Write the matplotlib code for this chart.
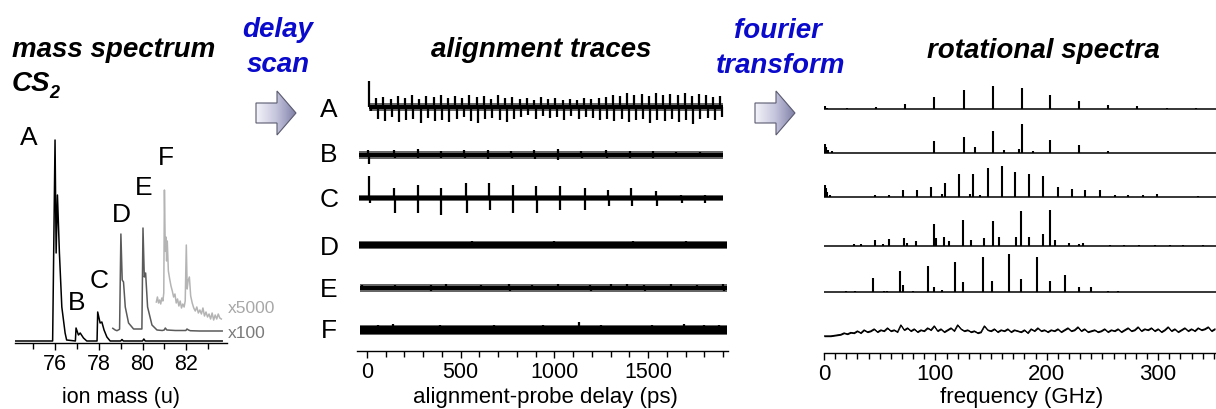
import matplotlib
matplotlib.use("Agg")
import matplotlib.pyplot as plt
import numpy as np
from matplotlib.colors import LinearSegmentedColormap
from matplotlib.patches import Polygon
from matplotlib.ticker import MultipleLocator

plt.rcParams["font.family"] = ["Liberation Sans", "DejaVu Sans"]

W, H = 1216, 409

# ---------------- mass spectrum (u, arb. units) ----------------
mass_x1 = [74.17, 75.89, 76.0, 76.05, 76.11, 76.2, 76.31, 76.46, 76.53, 76.93, 76.96,
           77.07, 77.15, 77.3, 77.45, 77.92, 77.95, 78.06, 78.14, 78.24, 78.37, 78.52,
           79.0, 79.06, 79.12, 80.0, 80.06, 80.12, 83.64]
int_x1 = [0, 0, 201, 88, 146, 88, 34, 8, 1, 0, 13,
          6, 8, 3, 0, 0, 29, 18, 19, 11, 4, 0,
          0, 1.5, 0, 0, 2, 0, 0]

mass_x100 = [78.64, 78.75, 78.83, 78.95, 79.01, 79.07, 79.13, 79.21, 79.36, 79.59, 79.8,
             79.97, 80.02, 80.08, 80.14, 80.23, 80.43, 80.66, 80.9, 80.99, 81.04, 81.11,
             81.5, 81.98, 82.03, 82.1, 82.18, 82.6, 83.0, 83.64]
int_x100 = [12.7, 11, 10.3, 11.7, 107, 61, 59, 34, 18, 12, 12,
            12, 113, 64, 68, 34, 16, 11, 10.5, 11, 13, 11,
            10.5, 10.5, 12, 11, 10.3, 10, 10, 10]

mass_x5000 = [80.63, 80.68, 80.73, 80.78, 80.83, 80.88, 80.93, 80.97,
              81.0, 81.04, 81.07, 81.1, 81.13, 81.18, 81.24, 81.3, 81.36, 81.42, 81.48,
              81.54, 81.6, 81.66, 81.72, 81.78, 81.84, 81.9, 81.95,
              82.0, 82.04, 82.08, 82.14, 82.2, 82.27, 82.34, 82.41, 82.48, 82.55, 82.62,
              82.69, 82.76, 82.83, 82.9, 82.97,
              83.04, 83.11, 83.18, 83.25, 83.32, 83.39, 83.46, 83.53, 83.6]
int_x5000 = [39, 44, 38, 41, 37, 43, 40, 48,
             151, 90, 104, 80, 100, 70, 62, 55, 50, 44, 47, 38, 42, 35, 40, 33, 37, 34, 40,
             96, 52, 60, 64, 45, 38, 33, 30, 34, 28, 31, 27, 33, 25, 29, 24,
             27, 22, 28, 21, 26, 22, 27, 23, 22]

isotope_labels = ["A", "B", "C", "D", "E", "F"]
isotope_label_mass = [74.8, 77.0, 78.0, 79.05, 80.05, 81.05]
isotope_label_int = [196, 31, 53, 119, 146, 176]

# ---------------- alignment traces (delay in ps) ----------------
trace_start = [12, -40, -40, -40, -35, -35]
trace_end = [1898, 1898, 1898, 1923, 1923, 1923]
trace_noise = [3.0, 3.0, 2.5, 3.5, 3.0, 4.5]

a_times = [12, 50, 88, 127, 165, 203, 241, 280, 318, 356, 394, 433, 471, 509, 547, 586,
           624, 662, 700, 739, 777, 815, 853, 892, 930, 968, 1006, 1045, 1083, 1121, 1159,
           1198, 1236, 1274, 1312, 1351, 1389, 1427, 1465, 1504, 1542, 1580, 1618, 1657,
           1695, 1733, 1771, 1810, 1848, 1886]
a_up = [26, 9, 10, 8, 11, 9, 12, 8, 11, 10, 12, 9, 11, 9, 12, 10, 11, 8, 12, 9, 10, 8, 9,
        7, 10, 8, 9, 7, 8, 7, 9, 8, 9, 10, 12, 11, 14, 12, 13, 11, 14, 12, 13, 12, 14, 11,
        13, 12, 10, 11]
a_down = [4, 12, 14, 10, 15, 13, 12, 16, 11, 14, 13, 15, 12, 10, 14, 16, 12, 11, 13, 15,
          12, 10, 8, 12, 9, 11, 10, 13, 9, 12, 10, 11, 13, 12, 14, 12, 15, 13, 12, 16, 13,
          14, 12, 15, 13, 17, 12, 11, 13, 10]

b_times = [8, 146, 271, 395, 520, 644, 769, 893, 1018, 1143, 1276, 1401, 1525, 1650, 1775]
b_up = [5, 5, 6, 4, 5, 5, 4, 5, 6, 4, 5, 4, 4, 3, 3]
b_down = [9, 3, 3, 3, 3, 4, 3, 4, 5, 3, 3, 3, 3, 2, 2]

c_times = [12, 146, 271, 395, 529, 654, 778, 903, 1028, 1161, 1286, 1410, 1544, 1677, 1802]
c_up = [22, 10, 13, 10, 15, 15, 13, 12, 12, 10, 8, 10, 7, 3, 3]
c_down = [5, 15, 15, 17, 15, 12, 15, 15, 12, 12, 8, 8, 8, 5, 5]

d_times = [-30, 120, 300, 480, 560, 700, 830, 1000, 1150, 1280, 1420, 1560, 1700, 1850]
d_up = [3, 3, 3, 2, 4, 3, 3, 4, 3, 3, 4, 3, 4, 3]
d_down = [2, 3, 2, 3, 2, 3, 2, 3, 2, 3, 2, 3, 2, 3]

e_times = [-25, 150, 340, 420, 610, 760, 880, 1020, 1190, 1300, 1390, 1480, 1620, 1760, 1900]
e_up = [3, 3, 3, 4, 3, 4, 3, 4, 3, 4, 4, 3, 4, 3, 4]
e_down = [2, 2, 3, 2, 2, 3, 2, 2, 3, 2, 2, 3, 2, 2, 3]

f_times = [60, 140, 260, 390, 520, 680, 810, 940, 1130, 1250, 1380, 1520, 1690, 1800, 1880]
f_up = [5, 6, 4, 5, 4, 5, 4, 5, 8, 5, 4, 5, 6, 5, 5]
f_down = [3, 4, 3, 4, 3, 3, 4, 3, 4, 3, 4, 3, 3, 4, 3]

spike_data = [(a_times, a_up, a_down), (b_times, b_up, b_down), (c_times, c_up, c_down),
              (d_times, d_up, d_down), (e_times, e_up, e_down), (f_times, f_up, f_down)]

# ---------------- rotational spectra (GHz) ----------------
spec1_f = [1, 3, 20.6, 46.7, 73.1, 99.1, 125.5, 151.5, 177.6, 203.3, 229.4, 255.4, 281.5, 307.9, 334.2]
spec1_h = [3, 1.5, 1, 2, 5, 12, 19, 23, 21, 14, 8, 4, 3, 1, 1]

spec2_f = [0.5, 2, 4, 7, 99.1, 125.5, 136.0, 151.5, 162.0, 174.9, 177.6, 187.5, 203.3, 229.4, 255.4]
spec2_h = [9, 6, 3, 2, 12, 16, 6, 22, 3, 4, 29, 2, 13, 8, 2]

spec3_f = [0.5, 1.5, 3, 5, 46.1, 58.7, 71.3, 83.6, 96.1, 106.0, 109.0, 121.6, 131.0, 134.2,
           140.0, 147.0, 159.6, 171.9, 184.5, 197.1, 210.0, 222.5, 234.8, 247.4, 260.9,
           273.4, 286.3, 298.9, 335.7]
spec3_h = [12, 9, 5, 2, 2, 2, 7, 7, 10, 3, 14, 23, 3, 23, 2, 29, 31, 25, 23, 21, 10, 8, 7,
           7, 2, 2, 2, 3, 1]

spec4_f = [27.3, 33.2, 46.1, 52.7, 58.1, 72.2, 74.3, 82.7, 98.5, 100.6, 108.1, 112.6, 124.6,
           132.1, 144.1, 151.5, 157.5, 172.5, 177.0, 184.5, 196.5, 202.5, 207.0, 220.4,
           229.4, 232.4, 256.4, 269.8, 283.3, 296.8, 310.3, 322.3, 340.2]
spec4_h = [2, 2, 6, 2, 7, 8, 3, 5, 22, 8, 9, 5, 26, 6, 8, 25, 9, 9, 35, 9, 12, 36, 6, 3,
           2, 3, 1, 1, 1, 1, 1, 1, 1]

spec5_f = [19.8, 28.2, 44.3, 54.2, 56.6, 68.3, 71.3, 79.7, 93.2, 99.1, 106.0, 118.0, 125.2,
           142.6, 150.7, 166.5, 177.0, 191.1, 203.1, 216.0, 229.4, 240.2, 255.2, 263.9]
spec5_h = [1, 1, 14, 1, 1, 21, 7, 1, 26, 5, 2, 30, 10, 35, 11, 38, 13, 35, 11, 17, 5, 5, 1, 1]

spec6_h = [0, 0, 0, 0.5, 1, 1.5, 3, 2, 3.5, 3, 5, 3, 6, 4, 5, 7, 4, 6, 5, 8, 5, 6, 4, 11,
           6, 8, 5, 7, 4, 6, 5, 8, 6, 10, 5, 7, 4, 6, 8, 5, 11, 7, 5, 6, 4, 5, 3, 4, 10, 6,
           5, 7, 4, 6, 5, 7, 4, 6, 5, 4, 6, 3, 7, 5, 8, 5, 6, 4, 6, 5, 7, 4, 6, 8, 5, 6, 9,
           5, 7, 4, 5, 6, 4, 5, 7, 4, 6, 5, 7, 4, 6, 8, 5, 6, 9, 5, 7, 6, 8, 5, 7, 4, 6, 9,
           5, 7, 4, 6, 8, 5, 7, 5, 8, 6, 7, 9, 5, 7]
spec6_f = np.arange(len(spec6_h)) * 3.0

spectra = [(spec1_f, spec1_h), (spec2_f, spec2_h), (spec3_f, spec3_h),
           (spec4_f, spec4_h), (spec5_f, spec5_h)]

# ---------------- layout (pixels) ----------------
delay_offsets = [244, 196, 153, 106, 63, 21]
spec_offsets = [244, 200, 156, 107, 61]
spec6_offset = 17
letter_baselines = [117, 162, 207, 255, 297, 338]

fig = plt.figure(figsize=(W / 100, H / 100), dpi=100)


def px_axes(left, right, top, bottom):
    return fig.add_axes([left / W, 1 - bottom / H, (right - left) / W, (bottom - top) / H])


def ftext(x, y, s, **kw):
    return fig.text(x / W, 1 - y / H, s, **kw)


def style_axis(ax, labelsize):
    for side in ("left", "right", "top"):
        ax.spines[side].set_visible(False)
    ax.spines["bottom"].set_linewidth(1.0)
    ax.set_yticks([])
    ax.tick_params(axis="x", which="major", direction="out", length=5, width=1,
                   labelsize=labelsize, pad=3)
    ax.tick_params(axis="x", which="minor", direction="out", length=4, width=1)
    ax.patch.set_alpha(0)


# panel 1: mass spectrum
ax1 = px_axes(15, 227, 128, 343)
ax1.plot(mass_x1, int_x1, color="black", lw=1.1)
ax1.plot(mass_x100, int_x100, color="#5a5a5a", lw=1.1)
ax1.plot(mass_x5000, int_x5000, color="#b4b4b4", lw=1.1)
ax1.set_xlim(74.17, 83.86)
ax1.set_ylim(-2, 213)
ax1.xaxis.set_major_locator(MultipleLocator(2))
ax1.xaxis.set_minor_locator(MultipleLocator(1))
style_axis(ax1, 15.5)
for lab, m, v in zip(isotope_labels, isotope_label_mass, isotope_label_int):
    ax1.text(m, v, lab, fontsize=19, ha="center", va="baseline")
ftext(228, 313, "x5000", fontsize=12.5, color="#a8a8a8", va="baseline")
ftext(228, 338, "x100", fontsize=12.5, color="#7a7a7a", va="baseline")
ftext(121, 403, "ion mass (u)", fontsize=15.5, ha="center", va="baseline")

# panel 2: alignment traces
ax2 = px_axes(357, 728, 78, 351)
for off, t0, t1, w, (tt, up, dn), k in zip(delay_offsets, trace_start, trace_end,
                                           trace_noise, spike_data, range(6)):
    ax2.fill_between([t0, t1], off - w * 0.8, off + w * 0.8, color="black", lw=0)
    ax2.fill_between([t0, t1], off - w - 0.6, off + w + 0.6, color="black", alpha=0.6, lw=0)
    tt = np.array(tt, dtype=float)
    ax2.vlines(tt, off, off + np.array(up), color="black", lw=1.6)
    shift = 8 if k == 0 else 3
    ax2.vlines(tt + shift, off - np.array(dn), off, color="black", lw=1.6)
ax2.set_xlim(-52, 1926)
ax2.set_ylim(0, 273)
ax2.xaxis.set_major_locator(MultipleLocator(500))
ax2.xaxis.set_minor_locator(MultipleLocator(100))
style_axis(ax2, 15.5)
for lab, yb in zip(isotope_labels, letter_baselines):
    ftext(329, yb, lab, fontsize=19, ha="center", va="baseline")
ftext(545, 403, "alignment-probe delay (ps)", fontsize=16, ha="center", va="baseline")

# panel 3: rotational spectra
ax3 = px_axes(824, 1216, 78, 353)
for off, (ff, hh) in zip(spec_offsets, spectra):
    ax3.plot([0, 352], [off, off], color="black", lw=1.1)
    ax3.vlines(ff, off, off + np.array(hh), color="black", lw=1.5)
s6 = spec6_offset + np.array(spec6_h)
ax3.fill_between(spec6_f, s6 - 0.7, s6 + 0.7, color="black", lw=0)
ax3.plot(spec6_f, s6, color="black", lw=0.9)
ax3.set_xlim(0, 352)
ax3.set_ylim(0, 275)
ax3.xaxis.set_major_locator(MultipleLocator(100))
ax3.xaxis.set_minor_locator(MultipleLocator(10))
style_axis(ax3, 16)
ftext(1022, 403, "frequency (GHz)", fontsize=16, ha="center", va="baseline")

# titles
title_kw = dict(fontsize=20, fontweight="bold", fontstyle="italic", va="baseline")
ftext(12, 57, "mass spectrum", **title_kw)
cs = ftext(12, 91, "CS", **title_kw)
fig.canvas.draw()
bb = cs.get_window_extent()
ftext(bb.x1 - 1, 98, "2", fontsize=13, fontweight="bold", fontstyle="italic", va="baseline")
ftext(541, 57, "alignment traces", ha="center", **title_kw)
ftext(1043, 58, "rotational spectra", ha="center", **title_kw)
blue_kw = dict(fontsize=20, fontweight="bold", fontstyle="italic", color="#0a0acc",
               ha="center", va="baseline")
ftext(278, 37, "delay", **blue_kw)
ftext(278, 72, "scan", **blue_kw)
ftext(778, 38, "fourier", **blue_kw)
ftext(781, 73, "transform", **blue_kw)

# block arrows with gradient fill
arrow_cmap = LinearSegmentedColormap.from_list("arrow", ["#f6f6fc", "#c4c4dc", "#7878a2"])


def block_arrow(left, top):
    ax = px_axes(left, left + 43, top, top + 46)
    ax.set_xlim(0, 43)
    ax.set_ylim(46, 0)
    ax.axis("off")
    grad = np.linspace(0, 1, 256)[None, :]
    im = ax.imshow(grad, extent=(0, 43, 46, 0), cmap=arrow_cmap, aspect="auto")
    poly = Polygon([(1, 13), (22, 13), (22, 1), (41, 23), (22, 45), (22, 33), (1, 33)],
                   closed=True, fc="none", ec="#5a5a70", lw=0.8)
    ax.add_patch(poly)
    im.set_clip_path(poly)


block_arrow(255, 90)
block_arrow(754, 90)

fig.savefig("out.png", dpi=100)
